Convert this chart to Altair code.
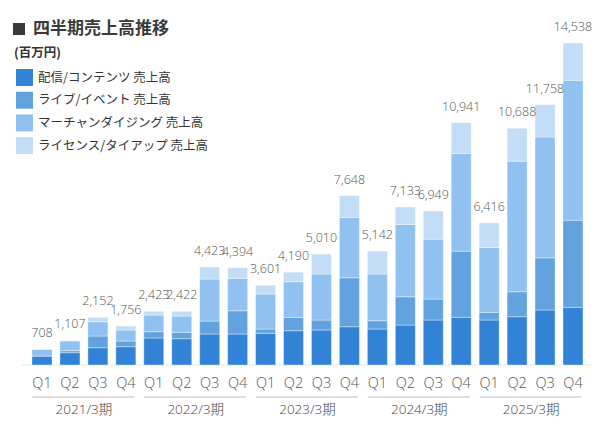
import altair as alt
import pandas as pd

quarters = ["Q1", "Q2", "Q3", "Q4"] * 5
years = ["2021/3期"] * 4 + ["2022/3期"] * 4 + ["2023/3期"] * 4 + ["2024/3期"] * 4 + ["2025/3期"] * 4
series = ["配信/コンテンツ 売上高", "ライブ/イベント 売上高", "マーチャンダイジング 売上高", "ライセンス/タイアップ 売上高"]
colors = ["#3282d6", "#62a3df", "#90c1f0", "#c3ddf6"]

distribution = [406, 555, 780, 825, 1218, 1186, 1398, 1398, 1430, 1547, 1579, 1727, 1624, 1804, 2030, 2151, 2030, 2178, 2480, 2602]
live = [0, 90, 528, 257, 284, 289, 586, 1051, 194, 604, 451, 2210, 374, 1276, 947, 2990, 347, 1128, 2359, 3937]
merch = [302, 440, 645, 496, 753, 735, 1894, 1461, 1579, 1606, 2075, 2724, 2106, 3265, 2706, 4406, 2932, 5895, 5457, 6314]
license_ = [0, 22, 199, 178, 168, 212, 545, 484, 398, 433, 905, 987, 1038, 788, 1266, 1394, 1107, 1487, 1462, 1685]
totals = [708, 1107, 2152, 1756, 2423, 2422, 4423, 4394, 3601, 4190, 5010, 7648, 5142, 7133, 6949, 10941, 6416, 10688, 11758, 14538]

rows = []
for i in range(len(quarters)):
    for k, vals in enumerate([distribution, live, merch, license_]):
        rows.append({"idx": i, "series": series[k], "order": k, "value": vals[i]})
seg = pd.DataFrame(rows)

bars_df = pd.DataFrame({
    "idx": list(range(len(quarters))),
    "q": quarters,
    "year": years,
    "total": totals,
    "label": [f"{t:,}" for t in totals],
})

grp = bars_df.groupby("year", sort=False)["idx"].agg(["min", "max"]).reset_index()
grp["start"] = grp["min"] - 0.34
grp["end"] = grp["max"] + 0.3
grp["mid"] = (grp["min"] + grp["max"]) / 2

xs = alt.Scale(domain=[0, 19], range=[29, 570])
ys = alt.Scale(domain=[0, 14538], range=[357, 35])
FONT = "Noto Sans CJK JP"
NUMFONT = "Open Sans, Noto Sans CJK JP"

zero_df = pd.DataFrame({"z": [0]})
base_line = alt.Chart(zero_df).mark_rule(color="#e6e6e6", strokeWidth=1).encode(
    y=alt.Y("z:Q", scale=ys, axis=None), x=alt.value(14), x2=alt.value(585)
)

bars = alt.Chart(seg).mark_bar(size=20, stroke="#ffffff", strokeWidth=0.6, strokeOpacity=0.6).encode(
    x=alt.X("idx:Q", scale=xs, axis=None),
    y=alt.Y("value:Q", stack="zero", scale=ys, axis=None),
    color=alt.Color(
        "series:N",
        scale=alt.Scale(domain=series, range=colors),
        legend=alt.Legend(
            orient="none", legendX=8, legendY=61, title=None,
            symbolType="square", symbolSize=289, symbolStrokeWidth=0, symbolOpacity=1,
            labelFont=FONT, labelFontSize=12.5, labelColor="#333333", labelOffset=5,
            rowPadding=5.7, labelLimit=300,
        ),
    ),
    order=alt.Order("order:Q", sort="ascending"),
)

value_labels = alt.Chart(bars_df).mark_text(
    font=NUMFONT, fontSize=12.5, fontWeight=300, color="#555555", baseline="alphabetic", dy=-12
).encode(x=alt.X("idx:Q", scale=xs), y=alt.Y("total:Q", scale=ys), text="label:N")

q_labels = alt.Chart(bars_df).mark_text(
    font=NUMFONT, fontSize=14.5, fontWeight=300, color="#555555", baseline="middle"
).encode(x=alt.X("idx:Q", scale=xs), y=alt.value(376), text="q:N")

grp_lines = alt.Chart(grp).mark_rule(color="#bdbdbd", strokeWidth=1).encode(
    x=alt.X("start:Q", scale=xs), x2="end:Q", y=alt.value(389)
)

year_labels = alt.Chart(grp).mark_text(
    font=NUMFONT, fontSize=13.5, fontWeight=300, color="#444444", baseline="middle"
).encode(x=alt.X("mid:Q", scale=xs), y=alt.value(401.5), text="year:N")

head_df = pd.DataFrame({"t": ["四半期売上高推移"], "u": ["(百万円)"]})
title_sq = alt.Chart(head_df).mark_rect(color="#3a3a3a").encode(
    x=alt.value(5), x2=alt.value(17), y=alt.value(15), y2=alt.value(27)
)
title_txt = alt.Chart(head_df).mark_text(
    font=FONT, fontSize=17, fontWeight="bold", color="#3a3a3a", align="left", baseline="middle"
).encode(x=alt.value(25), y=alt.value(21), text="t:N")
unit_txt = alt.Chart(head_df).mark_text(
    font=FONT, fontSize=12.5, fontWeight="bold", color="#333333", align="left", baseline="middle"
).encode(x=alt.value(6), y=alt.value(45), text="u:N")

chart = alt.layer(
    base_line, bars, value_labels, q_labels, grp_lines, year_labels, title_sq, title_txt, unit_txt
).properties(
    width=584, height=409, autosize=alt.AutoSizeParams(type="none"), padding=0
).configure_view(stroke=None)

chart.save("out.html", embed_options={"renderer": "svg", "actions": False})
